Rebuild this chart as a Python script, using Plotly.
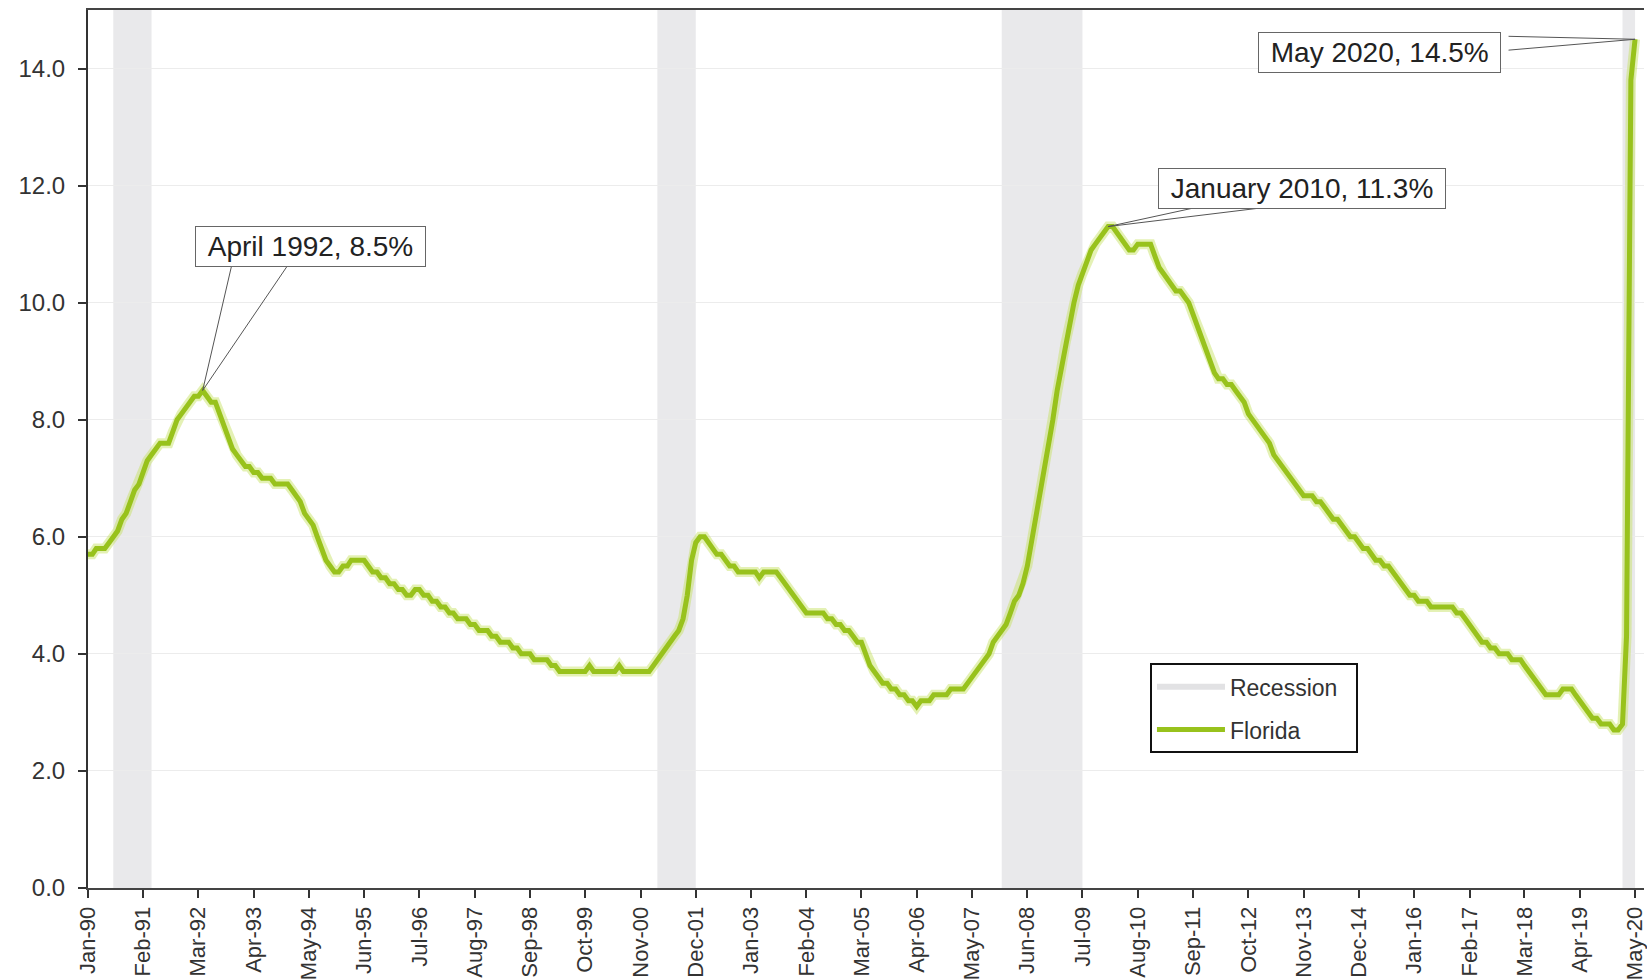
import pandas as pd
import plotly.graph_objects as go

# Florida unemployment rate (%), monthly, seasonally adjusted
fl_1990 = [5.7, 5.7, 5.8, 5.8, 5.8, 5.9, 6.0, 6.1, 6.3, 6.4, 6.6, 6.8]
fl_1991 = [6.9, 7.1, 7.3, 7.4, 7.5, 7.6, 7.6, 7.6, 7.8, 8.0, 8.1, 8.2]
fl_1992 = [8.3, 8.4, 8.4, 8.5, 8.4, 8.3, 8.3, 8.1, 7.9, 7.7, 7.5, 7.4]
fl_1993 = [7.3, 7.2, 7.2, 7.1, 7.1, 7.0, 7.0, 7.0, 6.9, 6.9, 6.9, 6.9]
fl_1994 = [6.8, 6.7, 6.6, 6.4, 6.3, 6.2, 6.0, 5.8, 5.6, 5.5, 5.4, 5.4]
fl_1995 = [5.5, 5.5, 5.6, 5.6, 5.6, 5.6, 5.5, 5.4, 5.4, 5.3, 5.3, 5.2]
fl_1996 = [5.2, 5.1, 5.1, 5.0, 5.0, 5.1, 5.1, 5.0, 5.0, 4.9, 4.9, 4.8]
fl_1997 = [4.8, 4.7, 4.7, 4.6, 4.6, 4.6, 4.5, 4.5, 4.4, 4.4, 4.4, 4.3]
fl_1998 = [4.3, 4.2, 4.2, 4.2, 4.1, 4.1, 4.0, 4.0, 4.0, 3.9, 3.9, 3.9]
fl_1999 = [3.9, 3.8, 3.8, 3.7, 3.7, 3.7, 3.7, 3.7, 3.7, 3.7, 3.8, 3.7]
fl_2000 = [3.7, 3.7, 3.7, 3.7, 3.7, 3.8, 3.7, 3.7, 3.7, 3.7, 3.7, 3.7]
fl_2001 = [3.7, 3.8, 3.9, 4.0, 4.1, 4.2, 4.3, 4.4, 4.6, 5.0, 5.6, 5.9]
fl_2002 = [6.0, 6.0, 5.9, 5.8, 5.7, 5.7, 5.6, 5.5, 5.5, 5.4, 5.4, 5.4]
fl_2003 = [5.4, 5.4, 5.3, 5.4, 5.4, 5.4, 5.4, 5.3, 5.2, 5.1, 5.0, 4.9]
fl_2004 = [4.8, 4.7, 4.7, 4.7, 4.7, 4.7, 4.6, 4.6, 4.5, 4.5, 4.4, 4.4]
fl_2005 = [4.3, 4.2, 4.2, 4.0, 3.8, 3.7, 3.6, 3.5, 3.5, 3.4, 3.4, 3.3]
fl_2006 = [3.3, 3.2, 3.2, 3.1, 3.2, 3.2, 3.2, 3.3, 3.3, 3.3, 3.3, 3.4]
fl_2007 = [3.4, 3.4, 3.4, 3.5, 3.6, 3.7, 3.8, 3.9, 4.0, 4.2, 4.3, 4.4]
fl_2008 = [4.5, 4.7, 4.9, 5.0, 5.2, 5.5, 5.9, 6.3, 6.7, 7.1, 7.5, 8.0]
fl_2009 = [8.5, 8.9, 9.3, 9.7, 10.0, 10.3, 10.5, 10.7, 10.9, 11.0, 11.1, 11.2]
fl_2010 = [11.3, 11.3, 11.2, 11.1, 11.0, 10.9, 10.9, 11.0, 11.0, 11.0, 11.0, 10.8]
fl_2011 = [10.6, 10.5, 10.4, 10.3, 10.2, 10.2, 10.1, 10.0, 9.8, 9.6, 9.4, 9.2]
fl_2012 = [9.0, 8.8, 8.7, 8.7, 8.6, 8.6, 8.5, 8.4, 8.3, 8.1, 8.0, 7.9]
fl_2013 = [7.8, 7.7, 7.6, 7.4, 7.3, 7.2, 7.1, 7.0, 6.9, 6.8, 6.7, 6.7]
fl_2014 = [6.7, 6.6, 6.6, 6.5, 6.4, 6.3, 6.3, 6.2, 6.1, 6.0, 6.0, 5.9]
fl_2015 = [5.8, 5.8, 5.7, 5.6, 5.6, 5.5, 5.5, 5.4, 5.3, 5.2, 5.1, 5.0]
fl_2016 = [5.0, 4.9, 4.9, 4.9, 4.8, 4.8, 4.8, 4.8, 4.8, 4.8, 4.7, 4.7]
fl_2017 = [4.6, 4.5, 4.4, 4.3, 4.2, 4.2, 4.1, 4.1, 4.0, 4.0, 4.0, 3.9]
fl_2018 = [3.9, 3.9, 3.8, 3.7, 3.6, 3.5, 3.4, 3.3, 3.3, 3.3, 3.3, 3.4]
fl_2019 = [3.4, 3.4, 3.3, 3.2, 3.1, 3.0, 2.9, 2.9, 2.8, 2.8, 2.8, 2.7]
fl_2020 = [2.7, 2.8, 4.3, 13.8, 14.5]

florida = (fl_1990 + fl_1991 + fl_1992 + fl_1993 + fl_1994 + fl_1995 + fl_1996
           + fl_1997 + fl_1998 + fl_1999 + fl_2000 + fl_2001 + fl_2002 + fl_2003
           + fl_2004 + fl_2005 + fl_2006 + fl_2007 + fl_2008 + fl_2009 + fl_2010
           + fl_2011 + fl_2012 + fl_2013 + fl_2014 + fl_2015 + fl_2016 + fl_2017
           + fl_2018 + fl_2019 + fl_2020)
months = pd.date_range("1990-01-01", periods=len(florida), freq="MS")

# NBER recessions (start, end)
recession_start = ["1990-07-01", "2001-03-01", "2007-12-01", "2020-02-01"]
recession_end = ["1991-04-01", "2001-12-01", "2009-07-01", "2020-05-01"]

# Callouts: month, label text
callout_month = ["1992-04-01", "2010-01-01", "2020-05-01"]
callout_text = ["April 1992, 8.5%", "January 2010, 11.3%", "May 2020, 14.5%"]

y_ticks = [0, 2, 4, 6, 8, 10, 12, 14]
tick_dates = months[::13]
tick_text = [d.strftime("%b-%y") for d in tick_dates]

GREEN = "#98c21c"
FONT = "Arial, Liberation Sans, sans-serif"

fig = go.Figure()

for s, e in zip(recession_start, recession_end):
    fig.add_vrect(x0=s, x1=e, fillcolor="#e9e9eb", line_width=0, layer="below")

fig.add_trace(go.Scatter(
    x=[None], y=[None], mode="lines", name="Recession\u00a0\u00a0",
    legendgroup="rec", line=dict(color="#e2e2e4", width=6), hoverinfo="skip"))

# soft halo under the series line
fig.add_trace(go.Scatter(
    x=months, y=florida, mode="lines", showlegend=False, hoverinfo="skip",
    line=dict(color="rgba(196,224,90,0.45)", width=10)))

fig.add_trace(go.Scatter(
    x=months, y=florida, mode="lines", name="Florida",
    legendgroup="fl", line=dict(color=GREEN, width=5)))

value_at = dict(zip(months.strftime("%Y-%m-%d"), florida))

# label box offsets (px) and the two callout pointer tails (px)
box_shift = [(108, 144), (194, 38), (-256, -13)]
tails = [[(29, -125), (85, -125)], [(92, -20), (164, -20)], [(-128, -3), (-128, 11)]]

for m, txt, (dx, dy), tl in zip(callout_month, callout_text, box_shift, tails):
    yv = value_at[m]
    for ax, ay in tl:
        fig.add_annotation(x=m, y=yv, xref="x", yref="y", text="", showarrow=True,
                           arrowhead=0, arrowwidth=1, arrowcolor="#555555",
                           ax=ax, ay=ay, standoff=0, startstandoff=0)
    fig.add_annotation(x=m, y=yv, xref="x", yref="y",
                       text="\u00a0" + txt + "\u00a0", showarrow=False,
                       xshift=dx, yshift=dy,
                       font=dict(family=FONT, size=28, color="#222222"),
                       bgcolor="white", bordercolor="#666666", borderwidth=1,
                       borderpad=4)

fig.update_layout(
    width=1647, height=980,
    margin=dict(l=88, r=0, t=10, b=91),
    paper_bgcolor="white", plot_bgcolor="white",
    font=dict(family=FONT, color="#333333"),
    showlegend=True,
    legend=dict(x=0.6825, y=0.256, xanchor="left", yanchor="top",
                bgcolor="white", bordercolor="#111111", borderwidth=2,
                font=dict(family=FONT, size=23, color="#333333"),
                itemwidth=68, tracegroupgap=10),
)

fig.update_xaxes(
    type="date", range=["1990-01-01", "2020-07-04"],
    tickvals=tick_dates, ticktext=tick_text, tickangle=-90,
    ticklabeloverflow="allow",
    tickfont=dict(family=FONT, size=22, color="#333333"),
    ticks="outside", ticklen=8, tickwidth=1.5, tickcolor="#333333",
    showline=True, linecolor="#444444", linewidth=2, mirror=True,
    showgrid=False, zeroline=False,
)
fig.update_yaxes(
    range=[0, 15], tickvals=y_ticks, tickformat=".1f",
    tickfont=dict(family=FONT, size=24, color="#333333"),
    ticks="outside", ticklen=8, tickwidth=1.5, tickcolor="#333333",
    ticklabelstandoff=8,
    showline=True, linecolor="#333333", linewidth=2,
    showgrid=True, gridcolor="#ececec", gridwidth=1, zeroline=False,
)

fig.write_html("out.html")
